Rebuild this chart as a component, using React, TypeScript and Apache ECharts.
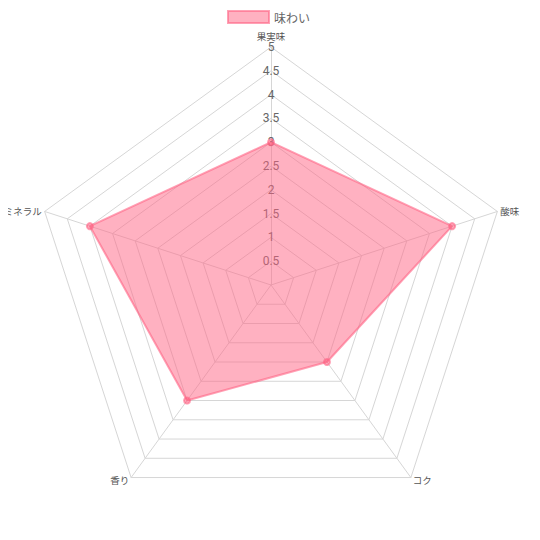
import React, { useEffect, useRef } from "react";
import * as echarts from "echarts";

const indicatorNames = ["果実味", "酸味", "コク", "香り", "ミネラル"];
const seriesName = "味わい";
const seriesValues = [3, 4, 2, 3, 4];
const maxValue = 5;

// ECharts draws radar axes counter-clockwise; reorder to draw clockwise like the reference
const order = [0, 4, 3, 2, 1];

export default function App() {
  const ref = useRef<HTMLDivElement>(null);
  useEffect(() => {
    const chart = echarts.init(ref.current!, null, { renderer: "svg" });
    chart.setOption({
      animation: false,
      legend: {
        top: 5,
        left: 222,
        itemWidth: 41,
        itemHeight: 12,
        itemGap: 6,
        icon: "rect",
        textStyle: { fontSize: 12, color: "#666", fontFamily: "Noto Sans CJK JP" },
        data: [seriesName],
      },
      radar: {
        center: [271, 285],
        radius: 238,
        startAngle: 90,
        shape: "polygon",
        splitNumber: 10,
        axisName: { color: "#555", fontSize: 9.5, fontFamily: "Noto Sans CJK JP" },
        nameGap: 3,
        axisLine: { lineStyle: { color: "#d6d6d6", width: 1 } },
        splitLine: { lineStyle: { color: "#d6d6d6", width: 1 } },
        splitArea: { show: false },
        axisTick: { show: false },
        axisLabel: { show: false },
        indicator: order.map((idx, i) => ({
          name: indicatorNames[idx],
          min: 0,
          max: maxValue,
          ...(i === 0
            ? {
                axisLabel: {
                  show: true,
                  showMinLabel: false,
                  margin: 0,
                  align: "center",
                  verticalAlign: "middle",
                  color: "#666",
                  fontSize: 12,
                  fontFamily: "Roboto",
                },
              }
            : {}),
        })),
      },
      series: [
        {
          type: "radar",
          name: seriesName,
          symbol: "circle",
          symbolSize: 6,
          itemStyle: { color: "rgba(255,99,132,0.5)", borderColor: "rgba(255,99,132,0.6)", borderWidth: 2 },
          lineStyle: { color: "rgba(255,99,132,0.6)", width: 2 },
          areaStyle: { color: "rgba(255,99,132,0.5)", opacity: 1 },
          data: [{ value: order.map((idx) => seriesValues[idx]), name: seriesName }],
        },
      ],
    });
    return () => chart.dispose();
  }, []);
  return <div ref={ref} style={{ width: 540, height: 540, margin: -8 }} />;
}
